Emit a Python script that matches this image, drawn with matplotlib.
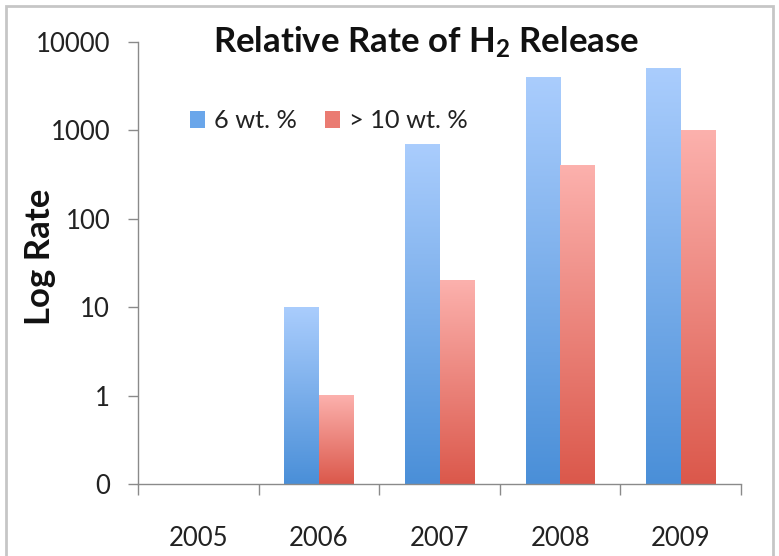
import numpy as np
import matplotlib
matplotlib.use("Agg")
import matplotlib.pyplot as plt
from matplotlib.patches import Rectangle, Patch
from matplotlib.colors import LinearSegmentedColormap

# data
years = ["2005", "2006", "2007", "2008", "2009"]
rate_6wt = [np.nan, 10, 700, 4000, 5000]
rate_10wt = [np.nan, 1, 20, 400, 1000]
series_names = ["6 wt. %", "> 10 wt. %"]
ytick_vals = [0.1, 1, 10, 100, 1000, 10000]
ytick_labels = ["0", "1", "10", "100", "1000", "10000"]

plt.rcParams["font.family"] = ["Lato", "DejaVu Sans"]
plt.rcParams["mathtext.default"] = "regular"

blue_top, blue_bot = "#aacdfd", "#4a8fd8"
red_top, red_bot = "#fcb1ad", "#db584b"
axis_col = "#8a8a8a"
text_col = "#222222"
base = 0.1  # bottom of the log axis (shown as "0")

fig = plt.figure(figsize=(7.79, 5.56), dpi=100)
ax = fig.add_axes([138 / 779, 1 - 484 / 556, (741 - 138) / 779, (484 - 42) / 556])

x = np.arange(len(years))
w = 0.286
bars_b = ax.bar(x - w / 2, np.array(rate_6wt) - base, w, bottom=base, color="none", edgecolor="none")
bars_r = ax.bar(x + w / 2, np.array(rate_10wt) - base, w, bottom=base, color="none", edgecolor="none")

ax.set_yscale("log")
ax.set_ylim(base, 10000)
ax.set_xlim(-0.5, len(years) - 0.5)

# per-bar vertical gradient, drawn in axes coords so it stays linear on screen
grad = np.linspace(1, 0, 256).reshape(-1, 1)
to_axes = ax.transData + ax.transAxes.inverted()
for bars, top, bot in [(bars_b, blue_top, blue_bot), (bars_r, red_top, red_bot)]:
    cmap = LinearSegmentedColormap.from_list("g", [bot, top])
    for p in bars:
        h = p.get_height()
        if not np.isfinite(h):
            continue
        x0 = p.get_x()
        (ax0, ay0), (ax1, ay1) = to_axes.transform([[x0, base], [x0 + p.get_width(), base + h]])
        ax.imshow(grad, extent=(ax0, ax1, ay0, ay1), transform=ax.transAxes,
                  cmap=cmap, aspect="auto", interpolation="bilinear", zorder=2)
ax.set_ylim(base, 10000)
ax.set_xlim(-0.5, len(years) - 0.5)

for s in ["top", "right"]:
    ax.spines[s].set_visible(False)
for s in ["left", "bottom"]:
    ax.spines[s].set_color(axis_col)
    ax.spines[s].set_linewidth(1.0)

ax.set_yticks(ytick_vals)
ax.set_yticklabels(ytick_labels)
ax.yaxis.set_minor_locator(matplotlib.ticker.NullLocator())
ax.tick_params(axis="y", length=7, width=1, color=axis_col, pad=13,
               labelsize=18.5, labelcolor=text_col)

ax.set_xticks(np.arange(len(years) + 1) - 0.5)
ax.set_xticklabels([])
ax.set_xticks(x, minor=True)
ax.set_xticklabels(years, minor=True)
ax.tick_params(axis="x", which="major", length=8, width=1, color=axis_col)
ax.tick_params(axis="x", which="minor", length=0, pad=30, labelsize=18.5, labelcolor=text_col)

fig.text(426 / 779, 1 - 42 / 556, "Relative Rate of H$_2$ Release", ha="center", va="center",
         fontsize=25, fontweight="bold", color="#111111")
fig.text(40 / 779, 1 - 257 / 556, "Log Rate", rotation=90, ha="center", va="center",
         fontsize=25, fontweight="bold", color="#111111")

handles = [Patch(facecolor="#6aa6ea", edgecolor="none"), Patch(facecolor="#ea7b72", edgecolor="none")]
ax.legend(handles, series_names, loc="center left", bbox_to_anchor=(190 / 779, 1 - 121 / 556),
          bbox_transform=fig.transFigure, ncol=2, frameon=False, fontsize=18.3,
          handlelength=0.6, handleheight=0.6, handletextpad=0.35, columnspacing=1.1,
          borderpad=0, borderaxespad=0, labelcolor=text_col)

# outer chart frame
fig.patches.append(Rectangle((6 / 779, -0.02), (773 - 6) / 779, 1 - 6 / 556 + 0.02,
                             transform=fig.transFigure, fill=False, edgecolor="#c6c6c6", lw=2))

fig.savefig("out.png", dpi=100)
